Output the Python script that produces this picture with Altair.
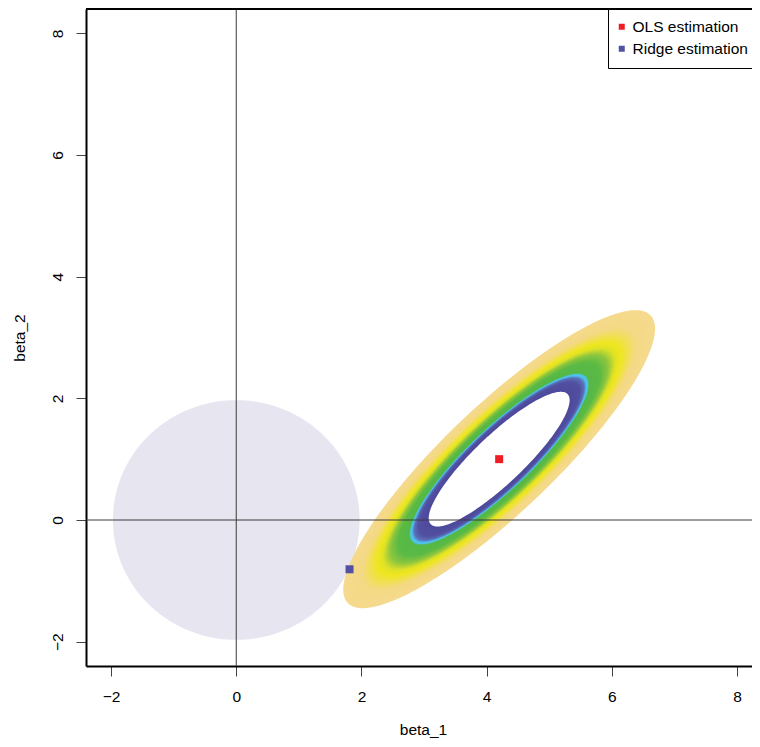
import numpy as np
import pandas as pd
import altair as alt

# ---- values ----
point_labels = ["OLS estimation", "Ridge estimation"]
point_x = [4.2, 1.81]
point_y = [1.0, -0.81]
point_colors = ["#EE1C24", "#5351A1"]

constraint_center = [0.0, 0.0]
constraint_radius = 1.97
constraint_color = "#E7E5F0"

# RSS quadratic form around the OLS estimate (outer contour = radius 1)
rss_matrix = [[0.69, -0.614], [-0.614, 0.713]]
outer_level = 1.0
inner_level = 0.452
level_step = 0.005

# colour ramp of the contour bands (radius -> colour)
band_stops = [0.452, 0.455, 0.52, 0.548, 0.562, 0.572, 0.577, 0.65, 0.70, 0.745, 0.78, 0.83, 0.88, 1.0]
band_colors = ["#FFFFFF", "#4E4A9C", "#5350A1", "#5A73BA", "#4DC4EF", "#4DC4EF", "#55B848",
               "#5CBA46", "#8DC63F", "#DDE129", "#EEE71F", "#F1DF55", "#F4D985", "#F5DA8F"]

x_ticks = [-2, 0, 2, 4, 6, 8]
y_ticks = [-2, 0, 2, 4, 6, 8]
x_domain = [-2.4, 8.239]
y_domain = [-2.4, 8.4]
axis_lines = [0]

# ---- build tables ----
n_pts = 180
theta = np.linspace(0, 2 * np.pi, n_pts, endpoint=False)
unit = np.vstack([np.cos(theta), np.sin(theta)])

K = np.linalg.cholesky(np.linalg.inv(np.array(rss_matrix)))
levels = list(np.round(np.arange(outer_level, inner_level + 0.002, -level_step), 3)) + [inner_level]
rows = []
for r in levels:
    pts = np.array(point_x[:1] + point_y[:1])[:, None] + r * (K @ unit)
    for i in range(n_pts):
        rows.append({"r": float(r), "i": i, "x": round(float(pts[0, i]), 4), "y": round(float(pts[1, i]), 4)})
ell_df = pd.DataFrame(rows)

circ_df = pd.DataFrame({
    "i": np.arange(n_pts),
    "x": np.round(constraint_center[0] + constraint_radius * np.cos(theta), 4),
    "y": np.round(constraint_center[1] + constraint_radius * np.sin(theta), 4),
})

pts_df = pd.DataFrame({"label": point_labels, "x": point_x, "y": point_y})

FONT = "Liberation Sans"
FS = 15.5
W, H = 666, 657

x_axis = alt.Axis(values=x_ticks, title="beta_1", grid=False,
                  domain=True, domainColor="black", domainWidth=2,
                  ticks=True, tickSize=10, tickColor="#444", tickWidth=1,
                  labelFont=FONT, labelFontSize=FS, labelColor="black",
                  labelBaseline="alphabetic", labelPadding=25, labelAlign="center",
                  titleFont=FONT, titleFontSize=FS, titleFontWeight="normal",
                  titleColor="black", titleBaseline="alphabetic",
                  titleX=337, titleY=68, titleAlign="center")
y_axis = alt.Axis(values=y_ticks, title="beta_2", grid=False,
                  domain=True, domainColor="black", domainWidth=2,
                  ticks=True, tickSize=10, tickColor="#444", tickWidth=1,
                  labelFont=FONT, labelFontSize=FS, labelColor="black",
                  labelAngle=270, labelAlign="center", labelBaseline="alphabetic",
                  labelPadding=14,
                  titleFont=FONT, titleFontSize=FS, titleFontWeight="normal",
                  titleColor="black", titleAngle=270, titleBaseline="alphabetic",
                  titleAlign="center", titleX=-62, titleY=H / 2)


def X(field="x:Q"):
    return alt.X(field, scale=alt.Scale(domain=x_domain, nice=False, zero=False), axis=x_axis)


def Y(field="y:Q"):
    return alt.Y(field, scale=alt.Scale(domain=y_domain, nice=False, zero=False), axis=y_axis)


circle = alt.Chart(circ_df).mark_line(fill=constraint_color, strokeOpacity=0).encode(
    x=X(), y=Y(), order="i:Q"
)

ellipse = alt.Chart(ell_df).mark_line(strokeOpacity=0).encode(
    x=X(), y=Y(), order="i:Q", detail="r:N",
    fill=alt.Fill("r:Q", scale=alt.Scale(domain=band_stops, range=band_colors, interpolate="rgb"),
                  legend=None),
)

vline = alt.Chart(pd.DataFrame({"v": axis_lines})).mark_rule(color="#3a3a3a", strokeWidth=1).encode(
    x=X("v:Q")
)
hline = alt.Chart(pd.DataFrame({"v": axis_lines})).mark_rule(color="#3a3a3a", strokeWidth=1).encode(
    y=Y("v:Q")
)

top_frame = alt.Chart(pd.DataFrame({"v": axis_lines})).mark_rule(color="black", strokeWidth=2).encode(
    x=alt.value(0), x2=alt.value(W), y=alt.value(0)
)

points = alt.Chart(pts_df).mark_square(size=64, opacity=1).encode(
    x=X(), y=Y(),
    color=alt.Color("label:N", scale=alt.Scale(domain=point_labels, range=point_colors),
                    legend=alt.Legend(title=None, orient="none", legendX=522, legendY=0,
                                      padding=10, fillColor="white", strokeColor="black",
                                      cornerRadius=0,
                                      symbolType="square", symbolSize=36, symbolStrokeWidth=0,
                                      symbolOpacity=1, symbolOffset=-4,
                                      labelFont=FONT, labelFontSize=FS, labelColor="black",
                                      labelOffset=3, rowPadding=5)),
)

chart = alt.layer(circle, ellipse, vline, hline, top_frame, points).properties(
    width=W, height=H,
    autosize=alt.AutoSizeParams(type="none"),
    padding={"left": 78, "top": 1, "right": 0, "bottom": 73},
    background="white",
).configure_view(stroke="transparent")

chart.save("out.html", embed_options={"renderer": "svg", "actions": False})
